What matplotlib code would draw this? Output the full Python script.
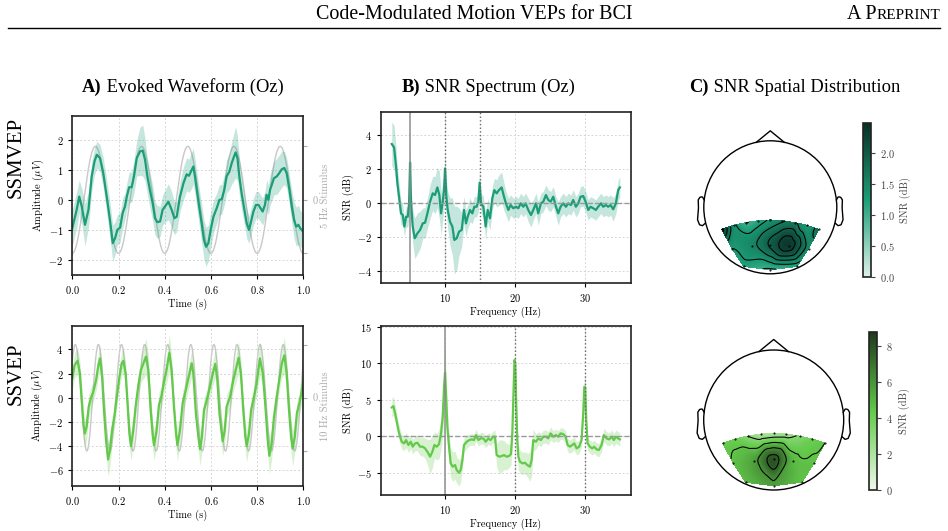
import numpy as np
import matplotlib
matplotlib.use("Agg")
import matplotlib.pyplot as plt
import matplotlib.tri as mtri
from matplotlib.colors import LinearSegmentedColormap, Normalize
from matplotlib.lines import Line2D
from matplotlib.patches import Circle
import matplotlib.cm as cm

# ---------------- DATA ----------------
# SSMVEP evoked waveform (Oz)
t_mv = [0.000,0.019,0.030,0.041,0.055,0.070,0.084,0.096,0.106,0.120,0.134,0.149,0.163,0.175,0.185,0.195,
        0.207,0.218,0.228,0.236,0.246,0.257,0.267,0.279,0.293,0.305,0.315,0.325,0.336,0.348,0.358,0.368,
        0.380,0.391,0.406,0.416,0.430,0.442,0.452,0.466,0.481,0.495,0.505,0.514,0.524,0.531,0.539,0.549,
        0.560,0.570,0.579,0.589,0.599,0.611,0.625,0.637,0.647,0.658,0.668,0.680,0.690,0.700,0.707,0.715,
        0.723,0.733,0.745,0.755,0.765,0.774,0.784,0.795,0.806,0.815,0.824,0.834,0.841,0.849,0.856,0.866,
        0.873,0.885,0.896,0.907,0.918,0.928,0.940,0.950,0.960,0.969,0.979,0.986,1.000]
v_mv = [-0.94,-0.33,0.11,-0.22,-0.83,-0.33,0.78,1.28,1.50,1.39,0.89,0.11,-0.67,-1.44,-1.28,-1.00,
        -0.92,-0.44,-0.22,0.11,0.42,0.42,0.78,1.39,1.61,1.64,1.33,0.78,0.33,-0.11,-0.61,-0.74,
        -0.72,-0.33,-0.17,-0.06,-0.33,-0.61,-0.56,0.10,0.55,0.85,0.80,0.95,1.11,0.78,0.33,-0.22,
        -0.78,-1.33,-1.56,-1.44,-1.00,-0.56,-0.28,0.00,0.02,0.33,0.78,0.94,1.22,1.44,1.58,1.39,
        0.78,0.22,-0.33,-0.78,-1.00,-0.72,-0.39,-0.17,-0.17,-0.28,-0.39,-0.17,0.17,0.00,0.33,0.56,
        0.72,0.78,0.89,1.02,1.06,0.89,0.33,-0.22,-0.67,-0.89,-0.83,-0.94,-1.06]
sd_mv = [0.6,0.6,0.55,0.6,0.7, 0.6,0.5,0.45,0.45,0.45, 0.5,0.55,0.6,0.6,0.55,0.5,
         0.5,0.5,0.45,0.45,0.5,0.5,0.55, 0.6,0.8,0.85,0.7,0.6,0.6,
         0.6,0.55,0.55,0.5,0.5,0.55,0.6,0.6,0.55,0.5, 0.5,0.55,0.55,0.55,0.6,0.6,0.6,0.6,0.6,
         0.65,0.65,0.65,0.6,0.6,0.55,0.5, 0.5,0.5,0.5,0.55,0.6,0.7,0.8,0.85,0.75,0.6,
         0.55,0.5,0.5,0.45,0.45,0.45,0.45,0.45,0.45,0.45, 0.45,0.5,0.5,0.5,0.55,0.55,0.6,0.6,0.6,0.55,0.5,
         0.5,0.55,0.6,0.65,0.65,0.6,0.6]

# SSVEP evoked waveform (Oz)
t_ve = [0.000,0.010,0.023,0.033,0.042,0.048,0.054,0.062,0.071,0.080,0.091,0.103,0.113,0.120,0.129,0.137,
        0.146,0.155,0.163,0.172,0.182,0.192,0.204,0.214,0.221,0.231,0.240,0.247,0.254,0.264,0.274,0.286,
        0.297,0.319,0.329,0.339,0.348,0.354,0.365,0.375,0.387,0.397,0.408,0.420,0.430,0.440,0.449,0.455,
        0.466,0.478,0.492,0.507,0.517,0.524,0.535,0.546,0.553,0.561,0.570,0.582,0.596,0.608,0.619,0.628,
        0.637,0.651,0.660,0.668,0.683,0.697,0.720,0.730,0.740,0.749,0.755,0.765,0.774,0.787,0.798,0.812,
        0.825,0.836,0.846,0.853,0.863,0.873,0.885,0.896,0.907,0.918,0.928,0.938,0.947,0.954,0.963,0.972,
        0.983,0.993,1.000]
v_ve = [1.6,2.7,3.06,2.0,-0.47,-2.13,-2.96,-2.4,-0.75,-0.06,0.49,1.46,2.7,3.25,1.74,-1.02,
        -3.5,-5.1,-4.34,-2.7,-1.6,-0.06,1.74,2.85,3.05,2.0,-0.75,-2.96,-4.0,-2.7,-0.75,1.05,
        2.29,3.4,2.29,-1.02,-3.1,-3.93,-2.7,-0.61,0.22,1.33,2.29,3.7,2.29,-0.75,-2.96,-3.93,
        -2.7,-0.4,0.7,2.0,2.85,2.0,-1.3,-3.24,-4.25,-3.24,-1.02,-0.2,0.91,2.0,2.8,1.46,
        -1.3,-3.6,-2.68,-0.75,0.08,1.46,3.3,2.0,-1.02,-3.24,-4.0,-2.96,-1.02,0.08,1.19,3.25,
        2.0,-0.75,-3.5,-4.8,-3.8,-1.6,0.08,1.46,2.84,3.5,2.0,-1.02,-3.24,-4.2,-3.24,-1.3,
        -0.47,0.49,1.4]
sd_ve = [0.9,1.0,1.1,1.0,1.0,1.1,1.2,1.1,1.0,0.9, 0.8,0.9,1.0,1.1,1.0,1.0,1.2,1.4,1.3,1.1,
         1.0,0.9,0.9,1.0,1.1,1.0,1.0,1.1,1.2,1.1, 1.0,0.9,1.0,1.5,1.3,1.1,1.2,1.3,1.1,1.0,
         0.9,0.9,1.1,1.5,1.2,1.0,1.2,1.3,1.1,1.0, 0.9,1.0,1.1,1.0,1.0,1.2,1.4,1.2,1.0,0.9,
         0.9,1.0,1.2,1.1,1.0,1.2,1.1,1.0,0.9,0.9, 1.3,1.1,1.0,1.2,1.3,1.1,1.0,0.9,1.0,1.4,
         1.1,1.0,1.2,1.5,1.3,1.0,0.9,0.9,1.1,1.5, 1.2,1.0,1.3,1.5,1.2,1.0,0.9,1.0,1.1]

# stimulus reference: frequency (Hz), time of first peak (s), drawn amplitude (uV)
stim_freq = [5, 10]
stim_peak = [0.1, 0.013]
stim_amp = [1.78, 4.4]

# SNR spectra (Oz)
f_mv = [2.38,2.71,3.00,3.19,3.48,3.71,3.95,4.19,4.43,4.67,4.86,5.00,5.14,5.38,5.67,6.05,6.43,6.81,7.14,7.48,
        7.86,8.24,8.57,8.90,9.19,9.43,9.67,9.86,10.00,10.19,10.38,10.71,11.05,11.33,11.67,12.00,12.38,12.71,
        13.00,13.24,13.57,13.90,14.19,14.52,14.76,14.95,15.14,15.48,15.81,16.10,16.43,16.76,17.05,17.38,
        17.71,18.10,18.43,18.71,19.05,19.38,19.76,20.14,20.48,20.81,21.19,21.52,21.90,22.29,22.62,23.00,
        23.33,23.71,24.05,24.43,24.76,25.10,25.48,25.86,26.19,26.52,26.90,27.29,27.62,28.00,28.33,28.71,
        29.05,29.38,29.76,30.10,30.48,30.81,31.19,31.57,31.90,32.29,32.62,33.00,33.33,33.67,34.05,34.43,
        34.76,35.00]
snr_mv = [3.47,3.27,2.13,1.15,0.17,-0.62,-0.72,-1.40,-0.82,-0.82,-0.03,2.37,-0.03,-1.40,-2.09,-1.80,-1.60,-1.21,-1.17,-0.62,
          0.07,0.56,0.46,0.91,0.46,-0.62,0.07,0.75,2.03,0.36,-0.42,-1.11,-1.40,-2.19,-2.09,-1.70,-1.60,-0.42,
          -1.21,-0.82,-0.42,-0.62,-0.23,-0.23,0.07,1.19,-0.03,-0.23,-1.40,-0.42,-0.91,0.26,0.75,0.56,
          0.75,0.91,0.36,-0.03,-0.42,-0.13,-0.32,-0.23,-0.32,-0.03,-0.23,-0.03,-0.42,-0.72,-0.42,-0.03,
          -0.62,-0.03,0.07,0.46,0.17,0.07,0.36,-0.23,-0.62,-0.23,-0.03,-0.23,-0.03,-0.13,0.17,-0.23,
          -0.03,0.36,0.40,0.07,-0.42,-0.23,-0.32,-0.42,-0.23,-0.03,-0.23,-0.13,-0.23,-0.13,-0.38,-0.03,
          0.75,0.91]
snr_mv_sd = [1.3,1.3,1.1,0.9,0.8,0.7,0.6,0.6,0.6,0.6,0.8,1.9,0.9,1.0,1.2,1.2,1.1,0.9,0.9,0.9,
             1.0,1.0,1.1,1.2,1.4,1.3,1.1,1.0,1.2,1.0,1.1,1.4,1.7,2.0,1.9,1.4,1.0,0.8,
             0.8,0.7,0.7,0.6,0.6,0.6,0.6,0.8,0.6,0.6,0.8,0.7,0.7,0.7,0.7,0.8,
             0.9,0.9,0.8,0.7,0.7,0.6,0.6,0.6,0.6,0.6,0.6,0.6,0.7,0.7,0.6,0.6,
             0.7,0.6,0.6,0.6,0.6,0.6,0.6,0.6,0.7,0.6,0.6,0.6,0.6,0.6,0.6,0.6,
             0.6,0.6,0.6,0.6,0.6,0.6,0.6,0.6,0.6,0.6,0.6,0.6,0.6,0.6,0.7,0.6,
             0.6,0.6]

f_ve = [2.38,2.62,2.86,3.10,3.33,3.57,3.81,4.14,4.43,4.76,5.10,5.38,5.71,6.05,6.43,6.81,7.14,7.48,7.86,8.19,
        8.48,8.81,9.14,9.43,9.67,9.86,10.00,10.14,10.33,10.57,10.81,11.10,11.43,11.67,12.00,12.24,12.48,12.71,
        13.10,13.48,13.81,14.14,14.43,14.76,15.10,15.48,15.81,16.19,16.52,16.90,17.14,17.38,17.76,18.10,
        18.43,18.81,19.14,19.43,19.62,19.76,19.93,20.05,20.19,20.33,20.48,20.71,21.10,21.43,21.76,22.14,
        22.38,22.62,23.00,23.33,23.71,24.05,24.43,24.76,25.10,25.48,25.86,26.19,26.52,26.90,27.24,27.52,
        27.86,28.19,28.48,28.81,29.19,29.52,29.76,29.92,30.05,30.19,30.38,30.71,31.05,31.33,31.67,32.00,
        32.38,32.71,33.10,33.48,33.81,34.14,34.43,34.76,35.00]
snr_ve = [3.95,4.13,3.13,1.99,0.85,-0.06,-0.75,-0.98,-0.52,-1.20,-0.75,-1.43,-0.98,-0.89,-1.43,-1.43,-1.66,-2.12,-2.80,-2.12,
          -1.20,-1.43,-1.07,0.39,2.68,6.78,8.70,5.87,1.31,-1.43,-3.72,-4.17,-3.95,-4.63,-5.00,-4.63,-3.26,-1.20,
          -0.75,-0.52,-0.43,-0.52,0.16,-0.52,-0.29,-0.29,-0.75,-0.29,-0.52,-0.06,-0.06,-2.58,-2.80,-2.71,
          -2.58,-2.80,-2.71,-2.44,0.39,4.96,10.44,9.98,4.05,-0.52,-2.80,-3.49,-3.72,-3.63,-3.95,-4.17,
          -3.26,-0.52,-0.75,-0.29,-0.52,-0.06,-0.06,-0.29,0.39,-0.06,0.16,-0.06,0.39,0.30,-0.06,-1.20,
          -1.43,-1.20,-0.98,-1.66,-1.43,-0.52,3.13,6.78,6.69,2.22,-0.98,-1.43,-1.66,-1.43,-1.80,-1.89,
          -1.20,0.16,-0.29,-0.43,-0.06,-0.52,-0.06,-0.29,-0.43]
snr_ve_sd = [1.3,1.3,1.2,1.1,1.0,1.0,1.0,1.0,1.0,1.0,1.0,1.0,1.0,1.1,1.2,1.3,1.4,1.7,2.4,2.2,
             1.8,1.8,2.0,2.2,2.5,3.5,4.0,3.0,2.2,2.0,2.0,2.0,1.9,1.8,1.8,1.6,1.3,1.0,
             0.9,0.8,0.8,0.8,0.8,0.8,0.8,0.8,0.8,0.8,0.8,0.8,0.9,1.6,2.3,2.2,
             2.0,1.8,1.6,1.5,1.5,1.8,1.2,1.2,1.8,1.8,1.8,1.6,1.5,1.5,1.6,2.0,
             2.2,1.5,1.0,0.9,0.9,0.9,0.9,0.9,0.9,0.8,0.8,0.8,0.8,0.8,0.8,0.9,
             0.9,0.9,0.9,0.9,0.9,0.9,1.2,1.5,1.5,1.2,0.9,0.9,0.9,0.9,0.9,0.9,
             0.9,0.9,0.9,0.9,0.9,0.9,0.9,0.9,0.9]

# stimulation frequency markers
fund_mv, harm_mv = 5, [10, 15]
fund_ve, harm_ve = 10, [20, 30]

# electrode layout (head units) and SNR per electrode
ch_names = ["P7","P5","P3","P1","Pz","P2","P4","P6","P8","PO7","PO3","POz","PO4","PO8","O1","Oz","O2"]
ch_x = [-0.73,-0.55,-0.37,-0.18,0.0,0.18,0.37,0.55,0.73,-0.575,-0.28,0.0,0.28,0.575,-0.40,0.0,0.40]
ch_y = [-0.33,-0.27,-0.23,-0.20,-0.19,-0.20,-0.23,-0.27,-0.33,-0.62,-0.58,-0.56,-0.58,-0.62,-0.89,-0.94,-0.89]
topo_mv = [2.35,1.40,1.00,1.15,1.35,1.55,1.65,1.30,1.80,1.30,1.50,1.95,2.35,1.45,1.20,0.95,1.10]
topo_ve = [4.3,4.0,3.0,2.0,2.0,2.4,3.2,4.0,4.5,4.6,5.6,8.0,4.9,4.6,4.8,5.6,4.6]
cbar_max = [2.49, 8.77]
levels_mv = [1.0, 1.3, 1.6, 1.9, 2.2]
levels_ve = [3.0, 4.5, 6.0, 7.5]

# ---------------- STYLE ----------------
plt.rcParams.update({
    "font.family": "serif", "font.serif": ["cmr10"], "mathtext.fontset": "cm",
    "axes.formatter.use_mathtext": True, "font.size": 7.5,
    "xtick.labelsize": 7.5, "ytick.labelsize": 7.5, "axes.labelsize": 7.5,
    "xtick.major.size": 3, "ytick.major.size": 3,
    "xtick.major.width": 0.8, "ytick.major.width": 0.8,
})
C_MV = "#1b9e77"
C_VE = "#62c94a"
SERIF = "Liberation Serif"

W, H = 948, 531
fig = plt.figure(figsize=(W / 100, H / 100), dpi=100)


def px_axes(l, t, r, b):
    return fig.add_axes([l / W, 1 - b / H, (r - l) / W, (b - t) / H])


def style_axes(ax):
    for s in ax.spines.values():
        s.set_linewidth(1.2)
        s.set_color("#222222")
    ax.grid(True, ls=(0, (2, 2)), color="#d6d6d6", lw=0.7)
    ax.set_axisbelow(True)


def wave_panel(ax, t, v, sd, color, k, ylim, yticks, stim_label):
    t = np.array(t); v = np.array(v); sd = np.array(sd)
    ax2 = ax.twinx()
    ts = np.linspace(0, 1, 600)
    ax2.plot(ts, np.cos(2 * np.pi * stim_freq[k] * (ts - stim_peak[k])), color="#c8c8c8", lw=1.0)
    ax2.set_ylim(ylim[0] / stim_amp[k], ylim[1] / stim_amp[k])
    ax2.set_yticks([-1, 0, 1])
    ax2.set_yticklabels(["", "0", ""])
    ax2.tick_params(axis="y", colors="#aaaaaa", labelsize=7.5)
    ax2.set_ylabel(stim_label, color="#aaaaaa", labelpad=2)
    for s in ax2.spines.values():
        s.set_visible(False)
    ax.set_zorder(ax2.get_zorder() + 1)
    ax.patch.set_visible(False)
    ax.fill_between(t, v - sd, v + sd, color=color, alpha=0.25, lw=0)
    ax.plot(t, v, color=color, lw=1.6)
    ax.set_xlim(0, 1)
    ax.set_ylim(*ylim)
    ax.set_yticks(yticks)
    ax.set_xticks([0, 0.2, 0.4, 0.6, 0.8, 1.0])
    ax.set_xlabel("Time (s)", labelpad=2)
    ax.set_ylabel(r"Amplitude ($\mu V$)", labelpad=2)
    style_axes(ax)


def snr_panel(ax, f, s, sd, color, fund, harms, ylim, yticks):
    f = np.array(f); s = np.array(s); sd = np.array(sd)
    ax.fill_between(f, s - sd, s + sd, color=color, alpha=0.25, lw=0)
    ax.plot(f, s, color=color, lw=1.6)
    ax.axhline(0, color="#999999", ls="--", lw=1.0)
    ax.axvline(fund, color="#888888", lw=1.3, alpha=0.8)
    for h in harms:
        ax.axvline(h, color="#666666", ls=":", lw=1.0)
    ax.set_xlim(0.8, 36.55)
    ax.set_ylim(*ylim)
    ax.set_yticks(yticks)
    ax.set_xticks([10, 20, 30])
    ax.set_xlabel("Frequency (Hz)", labelpad=2)
    ax.set_ylabel("SNR (dB)", labelpad=2)
    style_axes(ax)


def topo_panel(ax, cax, vals, cmap, vmax, levels, cticks):
    x = np.array(ch_x); y = np.array(ch_y); z = np.array(vals)
    tri = mtri.Triangulation(x, y)
    interp = mtri.CubicTriInterpolator(tri, z, kind="geom")
    ref = mtri.UniformTriRefiner(tri)
    tri_r, z_r = ref.refine_field(z, triinterpolator=interp, subdiv=4)
    norm = Normalize(0, vmax)
    ax.tricontourf(tri_r, z_r, levels=np.linspace(0, vmax, 120), cmap=cmap, norm=norm, extend="both")
    ax.tricontour(tri_r, z_r, levels=levels, colors="k", linewidths=0.75)
    ax.plot(x, y, "k.", ms=1.0)
    ax.add_patch(Circle((0, 0), 1.0, fill=False, ec="k", lw=1.0))
    ax.plot([-0.21, 0, 0.21], [0.978, 1.15, 0.978], color="k", lw=1.0)
    ex = np.array([.497, .510, .518, .5299, .5419, .54, .547, .532, .510, .489]) * 2
    ey = np.array([.0555, .0775, .0783, .0746, .0555, -.0055, -.0932, -.1313, -.1384, -.1199]) * 2
    ax.plot(ex, ey, color="k", lw=1.0)
    ax.plot(-ex, ey, color="k", lw=1.0)
    ax.set_xlim(-1.3, 1.3); ax.set_ylim(-1.3, 1.3)
    ax.set_aspect("equal")
    ax.axis("off")
    cb = fig.colorbar(cm.ScalarMappable(norm=norm, cmap=cmap), cax=cax)
    cb.set_ticks(cticks)
    cb.outline.set_linewidth(1.2)
    cb.outline.set_edgecolor("#222222")
    cb.set_label("SNR (dB)", color="#444444")
    cax.tick_params(labelsize=7.5, colors="#444444")


cmap_mv = LinearSegmentedColormap.from_list("mv", ["#dcf1e9", "#1b9e77", "#0a2e24"])
cmap_ve = LinearSegmentedColormap.from_list("ve", ["#eef8e8", "#62c94a", "#1f3a1c"])

# ---------------- PANELS ----------------
axA1 = px_axes(72.3, 115.7, 303.3, 275.0)
axB1 = px_axes(380.7, 112.3, 630.7, 282.7)
axA2 = px_axes(72.3, 326.0, 303.3, 485.7)
axB2 = px_axes(380.7, 325.7, 630.7, 495.0)

wave_panel(axA1, t_mv, v_mv, sd_mv, C_MV, 0, (-2.5, 2.8), [-2, -1, 0, 1, 2], "5 Hz Stimulus")
wave_panel(axA2, t_ve, v_ve, sd_ve, C_VE, 1, (-7.27, 5.93), [-6, -4, -2, 0, 2, 4], "10 Hz Stimulus")
snr_panel(axB1, f_mv, snr_mv, snr_mv_sd, C_MV, fund_mv, harm_mv, (-4.71, 5.34), [-4, -2, 0, 2, 4])
snr_panel(axB2, f_ve, snr_ve, snr_ve_sd, C_VE, fund_ve, harm_ve, (-8.05, 15.15), [-5, 0, 5, 10, 15])

r1 = 66.5; h1 = 1.3 * r1
axC1 = px_axes(770.3 - h1, 207.3 - h1, 770.3 + h1, 207.3 + h1)
cax1 = px_axes(862.7, 122.7, 870.7, 276.7)
r2 = 70.0; h2 = 1.3 * r2
axC2 = px_axes(773.7 - h2, 420.0 - h2, 773.7 + h2, 420.0 + h2)
cax2 = px_axes(869.3, 332.3, 877.3, 490.0)

topo_panel(axC1, cax1, topo_mv, cmap_mv, cbar_max[0], levels_mv, [0.0, 0.5, 1.0, 1.5, 2.0])
topo_panel(axC2, cax2, topo_ve, cmap_ve, cbar_max[1], levels_ve, [0, 2, 4, 6, 8])

# ---------------- TEXT ----------------
renderer = fig.canvas.get_renderer()


def two_part(xc, yb, parts, align="center"):
    texts = []
    for s, size, weight in parts:
        texts.append(fig.text(0, 0, s, fontfamily=SERIF, fontsize=size, fontweight=weight,
                              ha="left", va="baseline"))
    widths = [t.get_window_extent(renderer).width for t in texts]
    total = sum(widths)
    x0 = xc - total / 2 if align == "center" else xc - total
    for t, w in zip(texts, widths):
        t.set_position((x0 / W, 1 - yb / H))
        x0 += w


two_part(474, 19, [("Code-Modulated Motion VEPs for BCI", 14.4, "normal")])
two_part(940, 19, [("A P", 14.4, "normal"), ("REPRINT", 11.0, "normal")], align="right")
fig.add_artist(Line2D([8 / W, 940 / W], [1 - 27.5 / H] * 2, color="k", lw=1.0))

two_part(183, 92, [("A)", 13.3, "bold"), (" Evoked Waveform (Oz)", 13.3, "normal")])
two_part(488, 92, [("B)", 13.3, "bold"), (" SNR Spectrum (Oz)", 13.3, "normal")])
two_part(795, 92, [("C)", 13.3, "bold"), (" SNR Spatial Distribution", 13.3, "normal")])

fig.text(16 / W, 1 - 157 / H, "SSMVEP", fontfamily=SERIF, fontsize=15, rotation=90, ha="center", va="center")
fig.text(16 / W, 1 - 374 / H, "SSVEP", fontfamily=SERIF, fontsize=15, rotation=90, ha="center", va="center")

fig.savefig("out.png", dpi=100)
